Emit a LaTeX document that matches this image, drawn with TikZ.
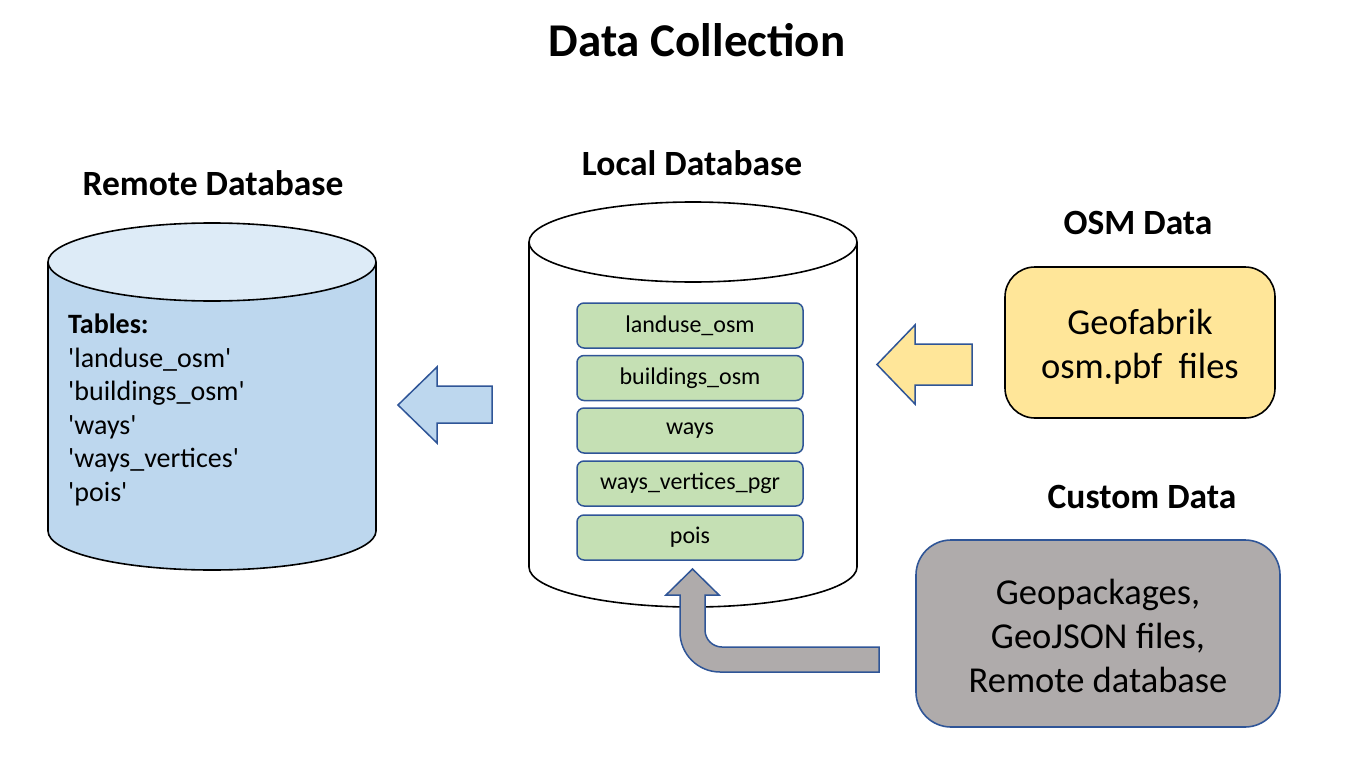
\documentclass[tikz,border=0pt]{standalone}
\usepackage{fontspec}
\setmainfont{Carlito}
\definecolor{sideblue}{HTML}{BDD7EE}
\definecolor{topblue}{HTML}{DDEBF7}
\definecolor{tgreen}{HTML}{C5E0B4}
\definecolor{tyellow}{HTML}{FFE699}
\definecolor{tgray}{HTML}{AFABAB}
\definecolor{edgeblue}{HTML}{2F5597}
\newcommand{\sq}{\textquotesingle}
\begin{document}
\begin{tikzpicture}[x=1pt,y=-1pt,
  heading/.style={font=\fontsize{35.5}{42}\selectfont\bfseries, inner sep=0pt},
  cyl/.style={draw=black, line width=1.6pt},
  tabline/.style={font=\fontsize{28}{33}\selectfont, anchor=west, inner sep=0pt, text height=0.7em, text depth=0.2em},
  tablebox/.style={draw=edgeblue, line width=1.5pt, fill=tgreen, rounded corners=7pt,
    minimum width=226pt, minimum height=45pt, inner sep=0pt, font=\fontsize{24}{29}\selectfont},
  blockarrow/.style={draw=edgeblue, line width=1.5pt, line join=miter},
  srcbox/.style={line width=1.6pt, inner sep=0pt},
  srctext/.style={align=center, inner sep=0pt, font=\fontsize{36.5}{44}\selectfont}
]
\useasboundingbox (0,0) rectangle (1349,757);

% title
\node[font=\fontsize{47}{56}\selectfont\bfseries, inner sep=0pt] (title) at (697,40) {Data Collection};

% remote database cylinder
\draw[cyl, fill=sideblue] (48,262) -- (48,531) arc[start angle=180, end angle=0, x radius=164, y radius=39] -- (376,262);
\draw[cyl, fill=topblue] (212,262) ellipse [x radius=164, y radius=39];
\node[heading] (remotehead) at (213,183) {Remote Database};
\node[tabline, font=\fontsize{28}{33}\selectfont\bfseries] (t0) at (68,331) {Tables:};
\node[tabline] (t1) at (68,364.5) {\sq landuse\_osm\sq};
\node[tabline] (t2) at (68,398) {\sq buildings\_osm\sq};
\node[tabline] (t3) at (68,431.5) {\sq ways\sq};
\node[tabline] (t4) at (68,465) {\sq ways\_vertices\sq};
\node[tabline] (t5) at (68,498.5) {\sq pois\sq};

% local database cylinder
\draw[cyl, fill=white] (529,242) -- (529,567) arc[start angle=180, end angle=0, x radius=164, y radius=40] -- (857,242);
\draw[cyl, fill=white] (693,242) ellipse [x radius=164, y radius=40];
\node[heading] (localhead) at (692,163) {Local Database};
\node[tablebox] (b1) at (690,325.5) {landuse\_osm};
\node[tablebox] (b2) at (690,378) {buildings\_osm};
\node[tablebox] (b3) at (690,430.5) {ways};
\node[tablebox] (b4) at (690,483.5) {ways\_vertices\_pgr};
\node[tablebox] (b5) at (690,537.5) {pois};

% blue arrow to remote
\draw[blockarrow, fill=sideblue] (398,405) -- (437,367) -- (437,386) -- (492,386) -- (492,423) -- (437,423) -- (437,443) -- cycle;

% OSM data
\node[heading] (osmhead) at (1138,223) {OSM Data};
\node[srcbox, draw=black, fill=tyellow, rounded corners=30pt, minimum width=270pt, minimum height=151pt] (osm) at (1140,342.5) {};
\node[srctext] (osmtext) at (1140,347) {Geofabrik\\osm.pbf~~files};
\draw[blockarrow, fill=tyellow] (877,364.5) -- (915,325) -- (915,344) -- (972,344) -- (972,385) -- (915,385) -- (915,404) -- cycle;

% custom data
\node[heading] (customhead) at (1142,497) {Custom Data};
\node[srcbox, draw=edgeblue, fill=tgray, rounded corners=35pt, minimum width=364pt, minimum height=187pt] (custom) at (1098,633.5) {};
\node[srctext] (customtext) at (1098,636) {Geopackages,\\GeoJSON files,\\Remote database};
\draw[blockarrow, fill=tgray] (692.5,569) -- (719,595) -- (705,595) -- (705,630)
  .. controls (705,639.4) and (712.6,647) .. (722,647) -- (879,647) -- (879,672) -- (720,672)
  .. controls (697.9,672) and (680,654.1) .. (680,632) -- (680,595) -- (666,595) -- cycle;
\end{tikzpicture}
\end{document}
